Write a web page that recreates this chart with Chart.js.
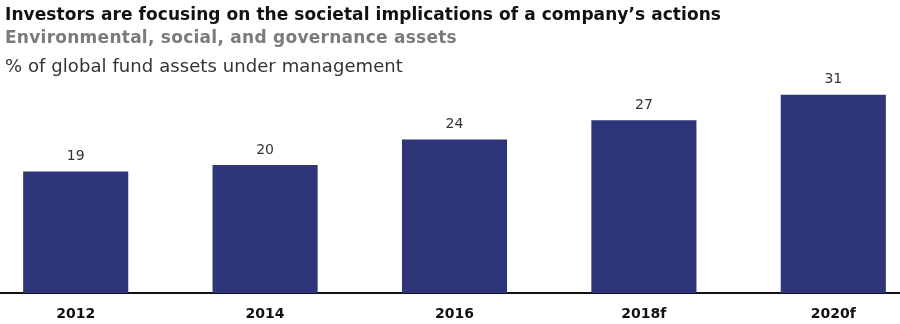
<!DOCTYPE html>
<html>
<head>
<meta charset="utf-8">
<script src="https://cdn.jsdelivr.net/npm/chart.js@4"></script>
<style>
  html, body { margin: 0; padding: 0; background: #fff; overflow: hidden; width: 900px; height: 324px; }
  .wrap { position: relative; width: 900px; height: 324px; }
  .head { position: absolute; left: 5px; white-space: nowrap; font-family: "DejaVu Sans", sans-serif; line-height: 1; }
  #t1 { top: 6px; font-size: 17px; font-weight: bold; color: #111; }
  #t2 { top: 29px; font-size: 17px; font-weight: bold; color: #7b7b7b; }
  #t3 { top: 57px; font-size: 18px; font-weight: normal; color: #333; }
  #box { position: absolute; left: -19px; top: 0; width: 947px; height: 336px; }
</style>
</head>
<body>
<div class="wrap">
  <div id="box"><canvas id="esg" width="947" height="336"></canvas></div>
  <div class="head" id="t1" data-w="716">Investors are focusing on the societal implications of a company’s actions</div>
  <div class="head" id="t2" data-w="452">Environmental, social, and governance assets</div>
  <div class="head" id="t3" data-w="398">% of global fund assets under management</div>
</div>
<script>
const years = ['2012', '2014', '2016', '2018f', '2020f'];
const shares = [19, 20, 24, 27, 31];

// stretch/squeeze each heading line to its set width
document.querySelectorAll('.head').forEach(el => {
  const want = +el.dataset.w;
  const got = el.getBoundingClientRect().width;
  el.style.letterSpacing = ((want - got) / el.textContent.length) + 'px';
});

// value above each bar
const barValues = {
  id: 'barValues',
  afterDatasetsDraw(chart) {
    const ctx = chart.ctx;
    const meta = chart.getDatasetMeta(0);
    ctx.save();
    ctx.font = '14px "DejaVu Sans", sans-serif';
    ctx.fillStyle = '#333';
    ctx.textAlign = 'center';
    ctx.textBaseline = 'middle';
    meta.data.forEach((bar, i) => {
      ctx.fillText(String(shares[i]), bar.x, bar.y - 15);
    });
    ctx.restore();
  }
};

new Chart(document.getElementById('esg'), {
  type: 'bar',
  data: {
    labels: years,
    datasets: [{
      data: shares,
      backgroundColor: '#2e3679',
      categoryPercentage: 1,
      barPercentage: 0.555
    }]
  },
  options: {
    responsive: false,
    animation: false,
    layout: { padding: { top: 37, bottom: 0, left: 0, right: 0 } },
    plugins: { legend: { display: false }, tooltip: { enabled: false } },
    scales: {
      y: { display: false, min: 0, max: 40 },
      x: {
        grid: { display: false, drawTicks: false },
        border: { display: true, color: '#111', width: 2 },
        ticks: {
          color: '#111',
          padding: 13,
          font: { family: '"DejaVu Sans", sans-serif', size: 14, weight: 'bold' }
        }
      }
    }
  },
  plugins: [barValues]
});
</script>
</body>
</html>
